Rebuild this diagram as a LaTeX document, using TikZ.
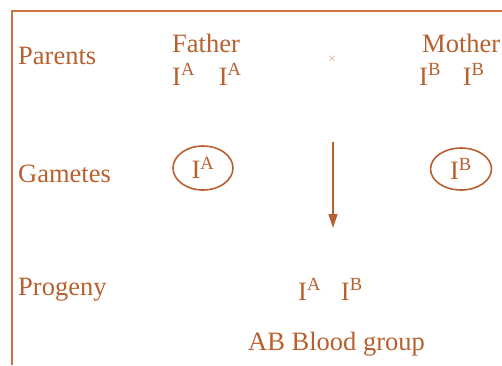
\documentclass[tikz,border=0pt]{standalone}
\usepackage{fontspec}
\setmainfont{Liberation Serif}
\usetikzlibrary{shapes.geometric,arrows.meta}
\definecolor{txt}{RGB}{184,96,46}
\definecolor{frm}{RGB}{205,115,62}
\begin{document}
\begin{tikzpicture}[x=1pt,y=-1pt,
  lbl/.style={anchor=base west,inner sep=0pt,text=txt,font=\fontsize{26.5}{30}\selectfont},
  gam/.style={ellipse,draw=txt,line width=1.6pt,inner sep=0pt,text=txt,font=\fontsize{26.5}{30}\selectfont}]
\useasboundingbox (0,0) rectangle (502,365);
\fill[white] (0,0) rectangle (502,365);
% frame
\coordinate (f1) at (12,365);
\coordinate (f2) at (12,11);
\coordinate (f3) at (502,11);
\draw[frm,line width=2pt] (f1) -- (f2) -- (f3);
% row labels
\node[lbl] (parents) at (18,64) {Parents};
\node[lbl] (gametes) at (18,182) {Gametes};
\node[lbl] (progeny) at (18,295) {Progeny};
% parents
\node[lbl] (father) at (172,52) {Father};
\node[lbl] (fg) at (172,85) {I\textsuperscript{A}\hspace{24pt}I\textsuperscript{A}};
\node[lbl] (mother) at (422,52) {Mother};
\node[lbl] (mg) at (419,85) {I\textsuperscript{B}\hspace{22pt}I\textsuperscript{B}};
\node[text=txt!55,inner sep=0pt,font=\fontsize{14}{16}\selectfont] (cross) at (332,60) {×};
% gametes
\node[gam,minimum width=60pt,minimum height=44pt] (ga) at (203,168) {I\textsuperscript{A}};
\node[gam,minimum width=61pt,minimum height=42pt] (gb) at (461,169) {I\textsuperscript{B}};
% arrow
\coordinate (a1) at (333,142);
\coordinate (a2) at (333,228);
\draw[txt,line width=1.4pt,-{Triangle[length=14pt,width=9pt]}] (a1) -- (a2);
% progeny
\node[lbl] (pg) at (298,300) {I\textsuperscript{A}\hspace{20pt}I\textsuperscript{B}};
\node[lbl] (ab) at (248,350) {AB Blood group};
\end{tikzpicture}
\end{document}
